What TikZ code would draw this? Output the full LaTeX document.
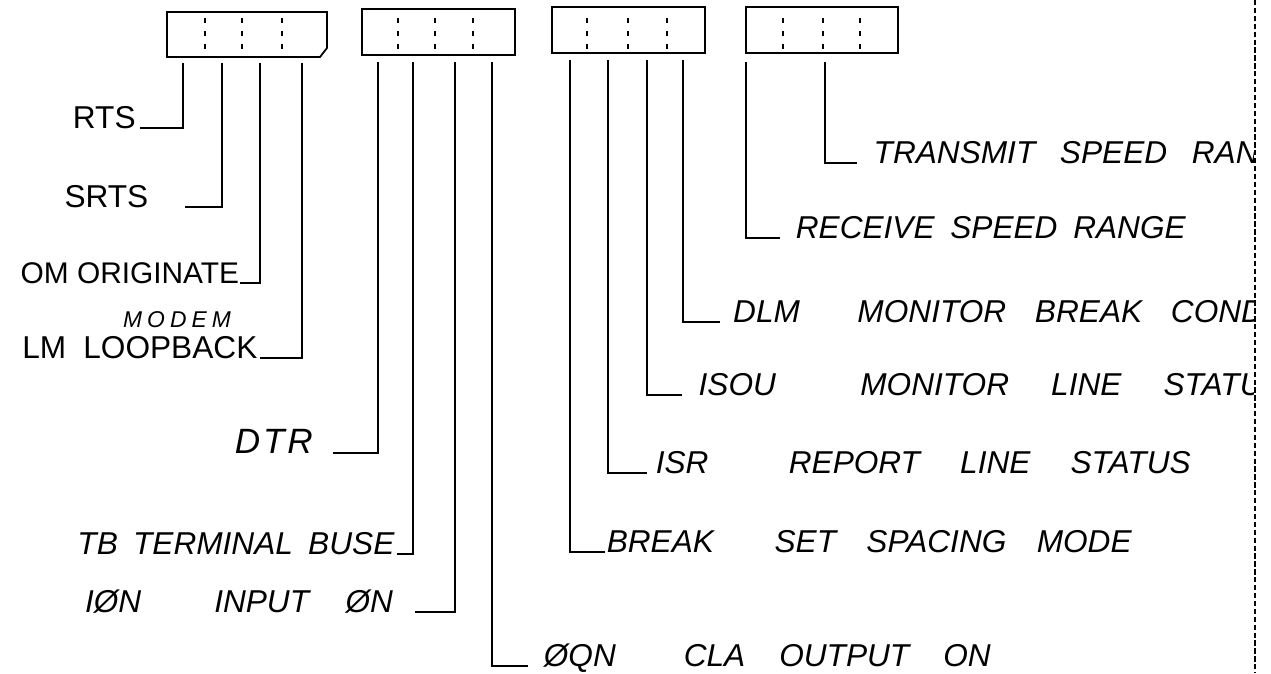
\documentclass[tikz,border=0pt]{standalone}
\usepackage{fontspec}
\setmainfont{Liberation Sans}
\newcommand{\spreadto}[2]{\makebox[#1][s]{#2}}
\begin{document}
\begin{tikzpicture}[x=0.02cm,y=-0.02cm,line width=1pt,
  every node/.style={text=black,inner ysep=1pt},
  sig/.style={font=\fontsize{18}{21}\selectfont},
  sigit/.style={font=\fontsize{18}{21}\selectfont\itshape},
  small/.style={font=\fontsize{13}{15}\selectfont\itshape\addfontfeatures{LetterSpace=22}}]
\useasboundingbox (0,0) rectangle (1271,673);
% edge of the copied sheet
\draw[line width=.6pt,dash pattern=on 3pt off 1.5pt] (1255,0) -- (1255,673);
% four register bytes, three dotted columns in each
\draw (167,12) -- (327,12) -- (327,48) -- (320,57) -- (167,57) -- cycle;
\draw (362,9) rectangle (515,55);
\draw (552,7) rectangle (705,53);
\draw (746,7) rectangle (898,53);
\foreach \x in {205,242,282,398,435,473,587,628,667,783,823,860}{
  \foreach \y in {18,31,44}{\draw[line width=1.4pt] (\x,\y) -- (\x,\y+5);}}
% lead-off points under the bytes
\foreach \n/\x/\y in {a/183/63,b/222/63,c/260/63,d/302/63,e/378/62,f/413/62,g/455/62,h/492/62,i/570/60,j/608/60,k/647/60,l/683/60,m/746/62,n/825/62}{\coordinate (\n) at (\x,\y);}
% first byte and second byte: labels hang to the left
\node[sig,anchor=base east,inner xsep=2pt] (rts) at (140,128) {RTS};
\node[sig,anchor=base east,inner xsep=14pt] (srts) at (185,207) {\spreadto{1.9cm}{SRTS}};
\node[sig,anchor=base east,inner xsep=0pt,font=\fontsize{17}{20}\selectfont] (om) at (240,283) {OM ORIGINATE};
\node[small,anchor=base] (modem) at (177,327) {MODEM};
\node[sig,anchor=base east,inner xsep=1pt] (lm) at (260,358) {\spreadto{4.7cm}{LM\ \ LOOPBACK}};
\node[sigit,anchor=base east,inner xsep=11pt,font=\fontsize{20}{23}\selectfont\itshape\addfontfeatures{LetterSpace=8}] (dtr) at (333,453) {DTR};
\node[sigit,anchor=base east,inner xsep=1pt] (tb) at (397,554) {\spreadto{6.34cm}{TB\ TERMINAL BUSE}};
\node[sigit,anchor=base east,inner xsep=12pt] (ion) at (415,612) {\spreadto{6.16cm}{IØN\ \ INPUT ØN}};
\draw (a) |- (rts.base east);
\draw (b) |- (srts.base east);
\draw (c) |- (om.base east);
\draw (d) |- (lm.base east);
\draw (e) |- (dtr.base east);
\draw (f) |- (tb.base east);
\draw (g) |- (ion.base east);
% third and fourth byte: labels run off to the right, cut at the sheet edge
\begin{scope}
\clip (0,0) rectangle (1253,673);
\node[sigit,anchor=base west,inner xsep=9pt] (tsr) at (857,163) {\spreadto{7.7cm}{TRANSMIT SPEED RAN}};
\node[sigit,anchor=base west,inner xsep=8.5pt] (rsr) at (780,238) {\spreadto{7.8cm}{RECEIVE SPEED RANGE}};
\node[sigit,anchor=base west,inner xsep=7pt] (dlm) at (720,322) {\spreadto{10.62cm}{DLM\ \ MONITOR BREAK COND}};
\node[sigit,anchor=base west,inner xsep=9pt] (isou) at (682,395) {\spreadto{11.28cm}{ISOU\ \ MONITOR LINE STATU}};
\node[sigit,anchor=base west,inner xsep=4.5pt] (isr) at (647,473) {\spreadto{10.7cm}{ISR\ \ REPORT LINE STATUS}};
\node[sigit,anchor=base west,inner xsep=.5pt] (brk) at (605,552) {\spreadto{10.5cm}{BREAK\ \ SET SPACING MODE}};
\node[sigit,anchor=base west,inner xsep=8.5pt] (oon) at (528,666) {\spreadto{8.94cm}{ØQN\ \ CLA OUTPUT ON}};
\end{scope}
\draw (n) |- (tsr.base west);
\draw (m) |- (rsr.base west);
\draw (l) |- (dlm.base west);
\draw (k) |- (isou.base west);
\draw (j) |- (isr.base west);
\draw (i) |- (brk.base west);
\draw (h) |- (oon.base west);
\end{tikzpicture}
\end{document}
